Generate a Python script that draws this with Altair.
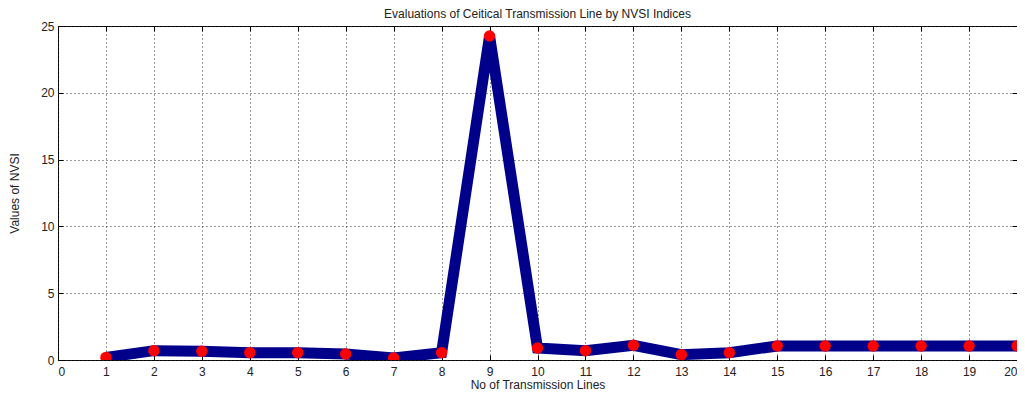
import altair as alt
import pandas as pd

lines = list(range(1, 21))
nvsi = [0.2, 0.7, 0.65, 0.55, 0.55, 0.45, 0.15, 0.55, 24.25, 0.9,
        0.7, 1.1, 0.4, 0.55, 1.05, 1.05, 1.05, 1.05, 1.05, 1.05]
x_ticks = list(range(0, 21))
y_ticks = [0, 5, 10, 15, 20, 25]

df = pd.DataFrame({"line": lines, "nvsi": nvsi})

FONT = "Liberation Sans"
xs = alt.Scale(domain=[0, 20], nice=False, zero=False)
ys = alt.Scale(domain=[0, 25], nice=False)

base = alt.Chart(df)

line = base.mark_line(color="#00008B", strokeWidth=11, clip=True).encode(
    x=alt.X("line:Q", scale=xs, axis=alt.Axis(
        orient="bottom", values=x_ticks, title="No of Transmission Lines",
        grid=True, ticks=False, domain=False, labelPadding=6, titlePadding=2,
        gridDash=[1, 3], gridColor="#333", gridWidth=1, gridOpacity=1)),
    y=alt.Y("nvsi:Q", scale=ys, axis=alt.Axis(
        orient="left", values=y_ticks, title="Values of NVSI",
        grid=True, ticks=False, domain=False, labelPadding=4, titlePadding=19,
        gridDash=[1, 3], gridColor="#333", gridWidth=1, gridOpacity=1)),
)

pts = base.mark_circle(color="#FF0000", size=130, opacity=1, clip=True).encode(
    x=alt.X("line:Q", scale=xs, axis=alt.Axis(
        orient="bottom", values=x_ticks, title=None, labels=False, domain=False,
        grid=False, ticks=True, tickSize=5, offset=-5, tickColor="#000")),
    y=alt.Y("nvsi:Q", scale=ys, axis=alt.Axis(
        orient="left", values=y_ticks, title=None, labels=False, domain=False,
        grid=False, ticks=True, tickSize=5, offset=-5, tickColor="#000")),
)

ghost = base.mark_circle(opacity=0).encode(
    x=alt.X("line:Q", scale=xs, axis=alt.Axis(
        orient="top", values=x_ticks, title=None, labels=False, domain=False,
        grid=False, ticks=True, tickSize=5, offset=-5, tickColor="#000")),
    y=alt.Y("nvsi:Q", scale=ys, axis=alt.Axis(
        orient="right", values=y_ticks, title=None, labels=False, domain=False,
        grid=False, ticks=True, tickSize=5, offset=-5, tickColor="#000")),
)

chart = alt.layer(line, pts, ghost).resolve_axis(
    x="independent", y="independent"
).properties(
    width=959, height=334,
    autosize=alt.AutoSizeParams(type="none"),
    padding={"left": 50, "top": 18, "right": 0, "bottom": 30},
    title=alt.Title("Evaluations of Ceitical Transmission Line by NVSI Indices",
                    fontSize=12, fontWeight="normal", font=FONT, color="#222",
                    offset=6, frame="group", dy=7),
).configure_view(
    stroke="#000", strokeWidth=1
).configure_axis(
    labelFont=FONT, labelFontSize=12, labelColor="#222",
    titleFont=FONT, titleFontSize=12, titleFontWeight="normal", titleColor="#222",
)

chart.save("out.html", embed_options={"renderer": "svg", "actions": False})
